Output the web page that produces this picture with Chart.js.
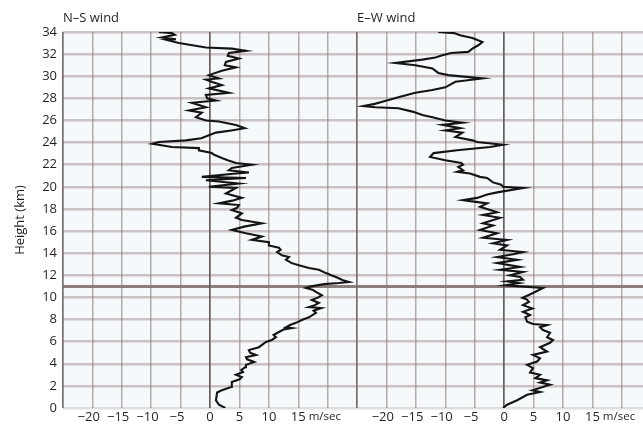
<!DOCTYPE html>
<html>
<head>
<meta charset="utf-8">
<script src="https://cdn.jsdelivr.net/npm/chart.js@4.4.0/dist/chart.umd.min.js"></script>
<style>
  html, body { margin: 0; padding: 0; background: #fff; }
  canvas { display: block; }
</style>
</head>
<body>
<canvas id="wind" width="643" height="425"></canvas>
<script>
// Wind sounding — N-S and E-W components vs height
// ===============================================

const heightTicks = [0, 2, 4, 6, 8, 10, 12, 14, 16, 18, 20, 22, 24, 26, 28, 30, 32, 34];
const tropopause = 11;
const gridSpeeds = [-25, -20, -15, -10, -5, 0, 5, 10, 15, 20];
const speedLabels = [-20, -15, -10, -5, 0, 5, 10, 15];
const panelTitles = ['N–S wind', 'E–W wind'];

// N-S component, read bottom to top
const nsHeight = [0.0, 0.3, 0.7, 1.4, 1.6, 1.9, 2.35, 2.6, 2.8, 3.0, 3.25, 3.44, 3.7, 3.9, 4.16, 4.4, 4.6, 4.8, 5.0, 5.24,
  5.5, 5.97, 6.15, 6.4, 6.6, 6.87, 7.1, 7.23, 7.3, 7.5, 7.7, 7.96, 8.2, 8.6, 8.8, 9.04, 9.13, 9.3, 9.5, 9.76,
  10.0, 10.2, 10.5, 10.7, 10.85, 11.0, 11.2, 11.3, 11.4, 11.55, 11.85, 12.0, 12.2, 12.5, 12.66, 12.9, 13.1, 13.4, 13.65, 13.8,
  14.1, 14.3, 14.5, 14.7, 15.0, 15.2, 15.5, 15.8, 16.1, 16.4, 16.7, 17.0, 17.2, 17.6, 17.9, 18.1, 18.35, 18.5, 18.75, 19.0,
  19.4, 19.9, 20.0, 20.3, 20.6, 20.8, 20.9, 21.2, 21.3, 21.5, 21.7, 22.0, 22.15, 22.4, 22.6, 22.9, 23.05, 23.3, 23.5, 23.6,
  23.9, 24.05, 24.2, 24.4, 24.9, 25.1, 25.3, 25.6, 25.9, 26.0, 26.3, 26.7, 26.9, 27.2, 27.6, 27.8, 28.0, 28.3, 28.5, 28.9,
  29.2, 29.45, 29.7, 29.8, 30.1, 30.5, 30.8, 31.0, 31.3, 31.6, 31.85, 32.1, 32.3, 32.5, 32.6, 33.0, 33.3, 33.35, 33.5, 33.75,
  33.9, 34.0];
const nsSpeed = [2.6, 1.5, 1.0, 1.2, 2.0, 3.6, 3.7, 5.0, 5.4, 4.4, 5.6, 5.3, 6.0, 6.1, 7.5, 6.3, 6.1, 7.8, 6.8, 6.6,
  8.3, 9.5, 10.5, 11.2, 10.8, 11.7, 12.5, 13.9, 12.9, 13.6, 14.6, 15.6, 16.8, 18.0, 17.6, 18.9, 16.8, 17.8, 18.5, 17.3,
  18.4, 19.0, 18.0, 17.4, 16.3, 17.2, 19.4, 21.9, 23.6, 22.6, 21.4, 20.6, 19.7, 18.5, 16.8, 15.1, 13.9, 12.9, 13.4, 12.2,
  11.4, 12.0, 11.7, 10.0, 10.0, 7.1, 8.8, 6.1, 3.7, 5.8, 8.8, 5.4, 4.4, 5.4, 3.7, 4.6, 4.9, 1.5, 3.8, 5.4,
  2.7, 4.4, -0.2, 4.9, -0.7, 6.1, -1.4, 4.4, 6.6, 3.2, 3.7, 7.1, 4.4, 3.0, 2.0, 0.7, 0.3, -1.9, -1.9, -6.5,
  -9.8, -8.7, -4.1, -1.5, 1.0, 3.6, 5.9, 4.4, 1.5, -0.7, -2.4, -1.4, -3.6, -0.7, -3.1, 1.0, -0.5, -0.7, 3.2, -0.2,
  2.0, 0.5, -0.7, 1.5, -0.2, 2.0, 4.4, 2.5, 2.7, 4.9, 3.0, 3.2, 6.1, 3.7, -0.7, -5.3, -7.5, -5.8, -8.2, -6.0,
  -6.5, -8.7];

// E-W component, read bottom to top
const ewHeight = [0.0, 0.3, 0.7, 1.2, 1.45, 1.6, 2.1, 2.3, 2.5, 2.7, 3.0, 3.2, 3.6, 3.9, 4.2, 4.5, 4.8, 5.1, 5.5, 5.9,
  6.15, 6.4, 6.8, 7.05, 7.3, 7.5, 7.6, 7.8, 8.2, 8.4, 8.7, 9.0, 9.3, 9.6, 9.8, 9.95, 10.4, 10.85, 11.1, 11.3,
  11.45, 11.6, 11.85, 12.0, 12.3, 12.5, 12.75, 13.1, 13.4, 13.65, 13.9, 14.1, 14.3, 14.7, 14.9, 15.2, 15.4, 15.8, 16.1, 16.5,
  16.7, 17.2, 17.45, 17.7, 18.2, 18.5, 18.8, 19.0, 19.3, 19.5, 19.9, 20.0, 20.2, 20.4, 20.8, 20.9, 21.2, 21.35, 21.5, 21.8,
  22.0, 22.15, 22.4, 22.7, 23.05, 23.3, 23.6, 23.8, 24.05, 24.2, 24.5, 24.9, 25.1, 25.3, 25.6, 25.8, 26.0, 26.3, 26.5, 26.8,
  27.1, 27.2, 27.3, 27.5, 27.7, 28.1, 28.5, 28.75, 29.0, 29.5, 29.8, 30.1, 30.3, 30.7, 31.0, 31.2, 31.5, 31.7, 31.9, 32.1,
  32.2, 32.5, 32.8, 33.1, 33.45, 33.7, 33.9, 34.0];
const ewSpeed = [-0.2, 0.5, 2.2, 3.9, 6.1, 4.8, 7.8, 6.1, 7.3, 5.3, 6.1, 4.4, 4.9, 3.9, 5.6, 6.1, 4.9, 7.3, 6.1, 7.8,
  8.3, 7.3, 7.8, 6.6, 6.1, 7.3, 4.9, 3.9, 3.6, 4.4, 3.2, 4.8, 3.2, 4.2, 3.9, 3.1, 4.9, 6.6, 0.2, 2.5,
  0.5, 3.2, 2.7, 1.0, 3.2, -0.7, 2.7, -1.2, 2.2, -1.2, 1.5, 3.2, -0.7, 0.5, -1.9, 0.5, -3.6, -1.2, -4.1, -1.9,
  -3.6, -0.7, -3.6, -1.2, -4.1, -2.9, -7.0, -4.6, -2.9, -1.2, 3.2, -0.2, -0.5, -1.9, -2.9, -4.1, -5.8, -8.0, -7.0, -7.8,
  -7.0, -7.3, -10.0, -12.6, -12.0, -8.0, -2.4, -0.2, -4.6, -5.4, -8.3, -7.1, -10.0, -7.5, -10.5, -7.1, -10.0, -12.2, -13.9, -15.6,
  -18.0, -21.9, -24.0, -22.0, -20.7, -18.0, -15.1, -12.2, -10.0, -8.3, -3.7, -9.5, -11.2, -12.2, -15.1, -18.5, -13.9, -11.7, -10.5, -9.0,
  -6.1, -5.4, -4.4, -3.7, -5.4, -7.5, -8.5, -11.2];

const TXT = '#231f20';
const FONT = "'Open Sans', sans-serif";

function profile(hs, us) {
  return hs.map((h, i) => ({ x: us[i], y: h }));
}

function vGridColor(ctx) {
  const v = ctx.tick.value;
  if (v === 0) return '#6a5e5c';
  if (v === -25) return '#7a6e6c';
  return 'rgba(140,118,114,0.6)';
}
function vGridWidth(ctx) {
  const v = ctx.tick.value;
  return (v === 0 || v === -25) ? 1.7 : 1.5;
}

const plotBg = {
  id: 'plotBg',
  beforeDraw(chart) {
    const a = chart.chartArea, c = chart.ctx;
    c.save();
    c.fillStyle = '#f6f9fc';
    c.fillRect(a.left, a.top, a.right - a.left, a.bottom - a.top);
    c.restore();
  }
};

// speed tick labels: digits centred on the gridline, minus sign hangs left
const speedText = {
  id: 'speedText',
  afterDraw(chart) {
    const c = chart.ctx;
    c.save();
    c.fillStyle = TXT;
    c.textBaseline = 'middle';
    c.textAlign = 'left';
    ['xNS', 'xEW'].forEach((id, k) => {
      const sc = chart.scales[id];
      c.font = '13px ' + FONT;
      speedLabels.forEach(v => {
        const px = sc.getPixelForValue(v);
        const digits = String(Math.abs(v));
        const w = c.measureText(digits).width;
        const mw = v < 0 ? c.measureText('\u2212').width : 0;
        c.fillText((v < 0 ? '\u2212' : '') + digits, px - w / 2 - mw, 417);
      });
      const p15 = sc.getPixelForValue(15);
      const w15 = c.measureText('15').width;
      c.font = '11.5px ' + FONT;
      c.fillText('m/sec', p15 + w15 / 2 + 3, 417);
      c.font = '13px ' + FONT;
      c.fillText(panelTitles[k], sc.left, 18);
    });
    c.restore();
  }
};

new Chart(document.getElementById('wind'), {
  type: 'scatter',
  data: {
    datasets: [
      { label: 'N–S wind', data: profile(nsHeight, nsSpeed), xAxisID: 'xNS', yAxisID: 'y' },
      { label: 'E–W wind', data: profile(ewHeight, ewSpeed), xAxisID: 'xEW', yAxisID: 'y' }
    ]
  },
  options: {
    responsive: false,
    animation: false,
    devicePixelRatio: 1,
    showLine: true,
    layout: { padding: { top: 32, right: 0, bottom: 0, left: 0 } },
    elements: {
      point: { radius: 0, hoverRadius: 0 },
      line: { borderColor: '#141414', borderWidth: 2.1, tension: 0 }
    },
    plugins: { legend: { display: false }, tooltip: { enabled: false } },
    scales: {
      y: {
        type: 'linear', position: 'left', min: 0, max: 34,
        afterBuildTicks: s => { s.ticks = heightTicks.concat([tropopause]).sort((a, b) => a - b).map(v => ({ value: v })); },
        afterFit: s => { s.width = 63; },
        ticks: {
          autoSkip: false, padding: 6, color: TXT, font: { family: FONT, size: 13 },
          callback: v => (v === tropopause ? '' : v)
        },
        title: { display: true, text: 'Height (km)', color: TXT, font: { family: FONT, size: 13 }, padding: { top: 12, bottom: 0 } },
        grid: {
          drawTicks: false,
          color: ctx => (ctx.tick.value === tropopause ? 'rgba(120,104,102,0.85)' : ctx.tick.value === 0 ? 'rgba(160,145,142,0.3)' : 'rgba(160,142,138,0.5)'),
          lineWidth: ctx => (ctx.tick.value === tropopause ? 3 : 2.5)
        },
        border: { display: false }
      },
      xNS: {
        type: 'linear', position: 'bottom', stack: 'wind', stackWeight: 50, min: -25, max: 25,
        afterBuildTicks: s => { s.ticks = gridSpeeds.map(v => ({ value: v })); },
        afterFit: s => { s.height = 17; },
        ticks: { display: false },
        grid: { drawTicks: false, color: vGridColor, lineWidth: vGridWidth },
        border: { display: false }
      },
      xEW: {
        type: 'linear', position: 'bottom', stack: 'wind', stackWeight: 48.6, min: -25, max: 23.6,
        afterBuildTicks: s => { s.ticks = gridSpeeds.map(v => ({ value: v })); },
        afterFit: s => { s.height = 17; },
        ticks: { display: false },
        grid: { drawTicks: false, color: vGridColor, lineWidth: vGridWidth },
        border: { display: false }
      }
    }
  },
  plugins: [plotBg, speedText]
});
</script>
</body>
</html>
